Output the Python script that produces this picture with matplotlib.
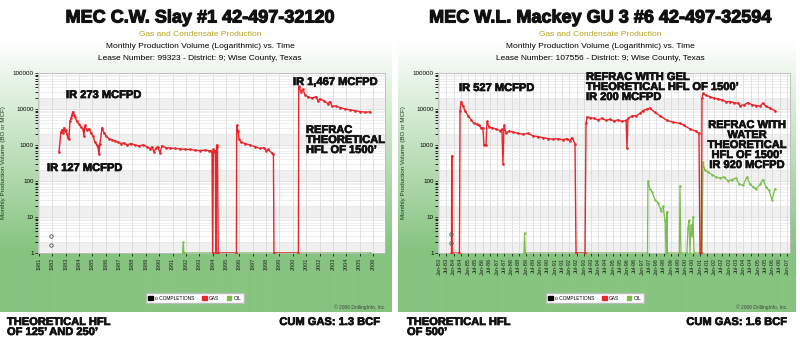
import matplotlib
matplotlib.use("Agg")
import matplotlib.pyplot as plt
import matplotlib.patheffects as pe
import numpy as np
from matplotlib.patches import Patch

plt.rcParams['font.family'] = ['Liberation Sans', 'DejaVu Sans']

# ---- data: left well (MEC C.W. Slay #1) ----
slay_gas_t = [1982.50, 1982.65, 1982.72, 1982.80, 1982.87, 1982.95, 1983.02, 1983.10, 1983.17, 1983.25,
              1983.32, 1983.40, 1983.47, 1983.55, 1983.62, 1983.70, 1983.84, 1983.99, 1984.14, 1984.29,
              1984.37, 1984.44, 1984.59, 1984.74, 1984.89, 1985.04, 1985.19, 1985.34, 1985.42, 1985.49,
              1985.57, 1985.72, 1985.87, 1986.02, 1986.24, 1986.46, 1986.69, 1986.91, 1987.14, 1987.36,
              1987.59, 1987.89, 1988.19, 1988.49, 1988.78, 1989.08, 1989.31, 1989.46, 1989.61, 1989.76,
              1989.90, 1990.06, 1990.21, 1990.51, 1990.81, 1991.18, 1991.55, 1991.93, 1992.30, 1992.68,
              1993.05, 1993.43, 1993.72, 1993.87, 1993.95, 1994.00, 1994.06, 1994.12, 1994.20, 1994.24,
              1994.30, 1994.36, 1994.42, 1995.78, 1995.80, 1995.90, 1995.97, 1996.12, 1996.42, 1996.79,
              1997.17, 1997.54, 1997.84, 1997.99, 1998.14, 1998.44, 1998.55, 1998.59, 2000.42, 2000.44,
              2000.50, 2000.61, 2000.76, 2000.91, 2001.13, 2001.43, 2001.73, 2001.88, 2002.03, 2002.33,
              2002.63, 2002.78, 2002.93, 2003.23, 2003.53, 2003.90, 2004.28, 2004.65, 2005.03, 2005.40,
              2005.78]
slay_gas_v = [650, 2300, 2600, 2200, 3000, 2500, 2600, 2000, 1600, 1500,
              4500, 5500, 7000, 8500, 7000, 6000, 4500, 3800, 3200, 2800,
              1800, 3500, 2600, 2800, 2200, 1800, 1200, 1000, 900, 560,
              1100, 3000, 2200, 1800, 1500, 1400, 1300, 1200, 1100, 1150,
              1000, 1100, 1000, 950, 1000, 900, 780, 880, 650, 820,
              900, 600, 950, 850, 820, 800, 780, 760, 750, 720,
              700, 720, 690, 700, 650, 1, 750, 650, 700, 1,
              1000, 900, 1, 1, 3500, 2500, 1500, 1200, 1100, 1000,
              900, 800, 850, 700, 750, 600, 550, 1, 1, 43000,
              40000, 30000, 35000, 25000, 22000, 20000, 22000, 17000, 19000, 17000,
              14000, 16000, 12000, 12000, 11000, 10000, 9500, 9000, 8500, 8200,
              8300]
slay_oil_t = [1991.75, 1991.80, 1991.85, 2005.80]
slay_oil_v = [1, 2, 1, 1]
slay_comp_t = [1981.90, 1981.90]
slay_comp_v = [3.0, 1.7]
slay_years = list(range(1981, 2007))

# ---- data: right well (MEC W.L. Mackey GU 3 #6) ----
mackey_gas_t = [1983.86, 1983.88, 1983.90, 1984.41, 1984.45, 1984.52, 1984.66, 1984.79, 1985.00, 1985.21,
                1985.41, 1985.62, 1985.76, 1985.90, 1986.03, 1986.10, 1986.24, 1986.31, 1986.45, 1986.66,
                1986.93, 1987.21, 1987.34, 1987.41, 1987.48, 1987.62, 1987.83, 1988.10, 1988.45, 1988.79,
                1989.14, 1989.48, 1989.83, 1990.17, 1990.52, 1990.86, 1991.21, 1991.55, 1991.83, 1992.03,
                1992.17, 1992.38, 1992.45, 1993.07, 1993.14, 1993.21, 1993.41, 1993.69, 1993.97, 1994.24,
                1994.52, 1994.79, 1995.07, 1995.34, 1995.62, 1995.90, 1995.97, 1996.03, 1996.31, 1996.59,
                1996.86, 1997.07, 1997.34, 1997.55, 1997.90, 1998.24, 1998.72, 1999.14, 1999.62, 1999.90,
                2000.31, 2000.72, 2000.93, 2001.00, 2001.10, 2001.14, 2001.21, 2001.41, 2001.69, 2001.97,
                2002.24, 2002.52, 2002.79, 2003.07, 2003.34, 2003.62, 2003.76, 2004.03, 2004.31, 2004.59,
                2004.86, 2005.14, 2005.34, 2005.55, 2005.83, 2006.17]
mackey_gas_v = [1, 500, 1, 1, 9000, 16000, 12000, 9000, 6500, 5000,
                4000, 3800, 3500, 3000, 3000, 1000, 1000, 4500, 3200, 3000,
                2800, 2500, 2700, 300, 3500, 2200, 2400, 2300, 2100, 2000,
                2100, 1800, 1700, 1600, 1500, 1450, 1500, 1400, 1500, 1300,
                1600, 1100, 1, 1, 4000, 6000, 5800, 5500, 5000, 5500,
                4800, 5200, 4600, 5000, 4500, 4800, 800, 5500, 6400, 6500,
                7500, 9000, 10000, 10500, 8000, 6500, 4800, 4300, 4000, 3500,
                2800, 2400, 2100, 1, 1, 20000, 27000, 24000, 22000, 20000,
                19000, 18000, 16000, 16000, 15000, 14500, 12500, 13000, 15000, 13000,
                12500, 12000, 14500, 12000, 10500, 9000]
mackey_oil_t = [1988.86, 1988.90, 1988.95, 1997.38, 1997.41, 1997.55, 1997.69, 1997.90, 1998.10, 1998.31,
                1998.45, 1998.59, 1998.66, 1998.70, 1998.72, 1998.75, 1999.58, 1999.62, 1999.69, 2000.10,
                2000.17, 2000.24, 2000.31, 2000.38, 2000.45, 2000.52, 2000.59, 2001.14, 2001.21, 2001.34,
                2001.55, 2001.83, 2002.10, 2002.38, 2002.66, 2002.93, 2003.21, 2003.48, 2003.69, 2003.97,
                2004.24, 2004.45, 2004.66, 2004.86, 2005.14, 2005.34, 2005.55, 2005.76, 2005.97, 2006.17]
mackey_oil_v = [1, 3.5, 1, 1, 100, 60, 50, 30, 25, 15,
                20, 8, 1, 1, 14, 1, 1, 73, 1, 1,
                5, 8, 1, 6, 3, 10, 1, 1, 330, 200,
                180, 150, 130, 120, 130, 100, 110, 120, 85, 75,
                130, 80, 70, 60, 80, 110, 70, 55, 30, 60]
mackey_comp_t = [1983.83, 1983.83]
mackey_comp_v = [3.3, 1.9]
mackey_ticks = [1983 + 0.5 * i for i in range(49)]
mackey_labels = [("Jan-" if i % 2 == 0 else "Jul-") + "%02d" % ((1983 + i // 2) % 100) for i in range(49)]

W, H = 800, 351
fig = plt.figure(figsize=(8, 3.51), dpi=100)


def fx(x):
    return x / W


def fy(y):
    return 1 - y / H


# background panels with white->green gradient
bg = fig.add_axes([0, 0, 1, 1], zorder=0)
bg.axis('off')
rows = np.arange(312)
t = np.clip((rows - 40) / 210.0, 0, 1) ** 1.0
white = np.array([1.0, 1.0, 1.0])
green = np.array([134, 196, 128]) / 255.0
grad = (white[None, :] * (1 - t[:, None]) + green[None, :] * t[:, None])[:, None, :]
bg.imshow(grad, extent=[0, 392, 312, 0], aspect='auto', interpolation='bilinear')
bg.imshow(grad, extent=[398, 796, 312, 0], aspect='auto', interpolation='bilinear')
bg.set_xlim(0, W)
bg.set_ylim(H, 0)


def make_axes(x0, x1, xlim, ticks, labels):
    ax = fig.add_axes([fx(x0), fy(253), fx(x1 - x0), 180 / H], zorder=1)
    ax.set_facecolor('white')
    ax.set_yscale('log')
    ax.set_ylim(1, 100000)
    ax.set_xlim(*xlim)
    for k in range(5):
        ax.axhspan(10 ** k, 2 * 10 ** k, color='#f0f0f0', lw=0, zorder=0)
    ax.set_yticks([1, 10, 100, 1000, 10000, 100000])
    ax.set_yticklabels(['1', '10', '100', '1000', '10000', '100000'])
    ax.set_xticks(ticks)
    ax.set_xticklabels(labels, rotation=90, fontsize=4, color='#222222')
    ax.tick_params(axis='y', labelsize=4.5, length=2, width=0.5, pad=1)
    ax.tick_params(axis='x', length=2, width=0.5, pad=1.5)
    ax.grid(True, which='major', color='#d4d4d4', lw=0.5)
    ax.grid(True, which='minor', axis='y', color='#e4e4e4', lw=0.4)
    for s in ax.spines.values():
        s.set_color('#bbbbbb')
        s.set_linewidth(0.6)
    ax.set_ylabel('Monthly Production Volume (BO or MCF)', fontsize=4.5, color='#1d3a1d', labelpad=5)
    return ax


ax1 = make_axes(38, 385, (1980.93, 2006.9), slay_years, [str(y) for y in slay_years])
ax2 = make_axes(438, 790, (1982.93, 2007.21), mackey_ticks, mackey_labels)

gas_c = '#e8262b'
oil_c = '#79bf4b'
for ax, gt, gv, ot, ov, ct, cv in [(ax1, slay_gas_t, slay_gas_v, slay_oil_t, slay_oil_v, slay_comp_t, slay_comp_v),
                                   (ax2, mackey_gas_t, mackey_gas_v, mackey_oil_t, mackey_oil_v, mackey_comp_t, mackey_comp_v)]:
    ax.plot(ot, ov, color=oil_c, lw=0.9, marker='.', ms=1.5, zorder=3)
    ax.plot(gt, gv, color=gas_c, lw=1.0, marker='.', ms=1.8, zorder=4)
    ax.plot(ct, cv, ls='none', marker='o', ms=2.5, mfc='none', mec='#555555', mew=0.6, zorder=5)

# legends
handles = [Patch(color='black', label='o COMPLETIONS'), Patch(color=gas_c, label='GAS'),
           Patch(color=oil_c, label='OIL')]
for cx in (195, 595):
    fig.legend(handles=handles, loc='center', bbox_to_anchor=(fx(cx), fy(298)), ncol=3, fontsize=3.5,
               handlelength=0.9, handleheight=0.9, columnspacing=1.6, handletextpad=0.5,
               frameon=True, fancybox=True, framealpha=1, edgecolor='#bbbbbb', borderpad=0.5)

for x in (385, 787):
    fig.text(fx(x), fy(307), '\u00a9 2006 DrillingInfo, Inc.', fontsize=3.5, color='#444444', ha='right', va='center')

# titles
heavy = [pe.withStroke(linewidth=0.8, foreground='#111111')]
fig.text(fx(200), fy(18), 'MEC C.W. Slay #1 42-497-32120', fontsize=13, weight='bold', ha='center',
         va='center', color='#111111', path_effects=heavy)
fig.text(fx(600), fy(18), 'MEC W.L. Mackey GU 3 #6 42-497-32594', fontsize=13, weight='bold', ha='center',
         va='center', color='#111111', path_effects=heavy)
for cx, lease in ((200, 'Lease Number: 99323 - District: 9; Wise County, Texas'),
                  (600, 'Lease Number: 107556 - District: 9; Wise County, Texas')):
    fig.text(fx(cx), fy(35), 'Gas and Condensate Production', fontsize=6, color='#b5a41c', ha='center', va='center')
    fig.text(fx(cx), fy(46), 'Monthly Production Volume (Logarithmic) vs. Time', fontsize=6, ha='center', va='center')
    fig.text(fx(cx), fy(58), lease, fontsize=6, ha='center', va='center')

# annotations
ann = dict(fontsize=8, weight='bold', color='#111111', va='center',
           path_effects=[pe.withStroke(linewidth=0.5, foreground='#111111')])
fig.text(fx(66), fy(95), 'IR 273 MCFPD', ha='left', **ann)
fig.text(fx(47), fy(168), 'IR 127 MCFPD', ha='left', **ann)
fig.text(fx(293), fy(82), 'IR 1,467 MCFPD', ha='left', **ann)
fig.text(fx(306), fy(140), 'REFRAC\nTHEORETICAL\nHFL OF 1500\u2019', ha='left', linespacing=1.0, **ann)
fig.text(fx(459), fy(88), 'IR 527 MCFPD', ha='left', **ann)
fig.text(fx(586), fy(87), 'REFRAC WITH GEL\nTHEORETICAL HFL OF 1500\u2019\nIR 200 MCFPD', ha='left', linespacing=1.0, **ann)
fig.text(fx(747), fy(145), 'REFRAC WITH\nWATER\nTHEORETICAL\nHFL OF 1500\u2019\nIR 920 MCFPD', ha='center', linespacing=1.0, **ann)

# bottom notes
fig.text(fx(7), fy(327), 'THEORETICAL HFL\nOF 125\u2019 AND 250\u2019', ha='left', linespacing=1.0, **ann)
fig.text(fx(380), fy(322), 'CUM GAS: 1.3 BCF', ha='right', **ann)
fig.text(fx(407), fy(327), 'THEORETICAL HFL\nOF 500\u2019', ha='left', linespacing=1.0, **ann)
fig.text(fx(787), fy(322), 'CUM GAS: 1.6 BCF', ha='right', **ann)

fig.savefig('out.png', dpi=100)
